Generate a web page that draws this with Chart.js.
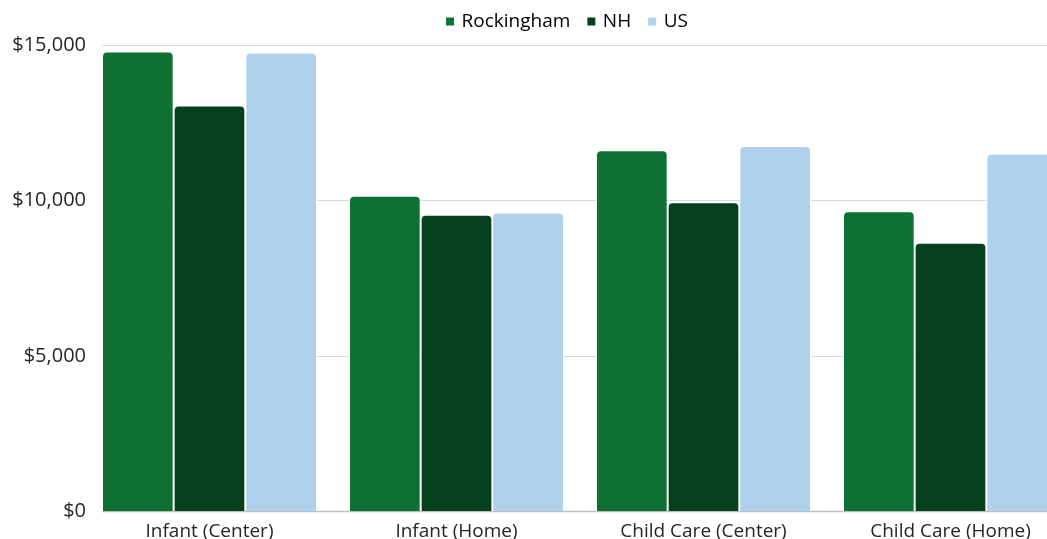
<!DOCTYPE html>
<html>
<head>
<meta charset="utf-8">
<script src="https://cdn.jsdelivr.net/npm/chart.js@4"></script>
<style>
  html, body { margin: 0; padding: 0; background: #ffffff; width: 1047px; height: 539px; overflow: hidden; }
  #wrap { position: absolute; left: 0; top: -6px; width: 1136px; height: 558px; }
</style>
</head>
<body>
<div id="wrap"><canvas id="c"></canvas></div>
<script>
// Average annual cost of care, by care type
const categories = ['Infant (Center)', 'Infant (Home)', 'Child Care (Center)', 'Child Care (Home)'];
const rockingham = [14790, 10150, 11610, 9650];
const nh = [13050, 9540, 9940, 8640];
const us = [14760, 9610, 11750, 11500];
const seriesNames = ['Rockingham', 'NH', 'US'];
const yTickValues = [0, 5000, 10000, 15000];

const colors = ['#0e7032', '#03401b', '#aed1ee'];
const CAT_PCT = 0.8704;
const FONT = "'Open Sans', sans-serif";
const FONT_SIZE = 19;
const LEGEND_SHIFT_X = 31;
const LEGEND_SHIFT_Y = -4;

// Horizontal gridlines start at the left edge of the first bar group
const gridPlugin = {
  id: 'groupGrid',
  beforeDatasetsDraw(chart) {
    const { ctx, chartArea, scales } = chart;
    const x = scales.x, y = scales.y;
    const catW = (chartArea.right - chartArea.left) / categories.length;
    const startX = x.getPixelForValue(0) - catW * CAT_PCT / 2;
    ctx.save();
    yTickValues.forEach(v => {
      const py = Math.round(y.getPixelForValue(v)) + 0.5;
      ctx.strokeStyle = v === 0 ? '#bfbfbf' : '#d9d9d9';
      ctx.lineWidth = v === 0 ? 1.5 : 1;
      ctx.beginPath();
      ctx.moveTo(startX, py);
      ctx.lineTo(chartArea.right, py);
      ctx.stroke();
    });
    ctx.restore();
  }
};

// Nudge the legend so it sits centered over the bars, close to the top edge
const legendShiftPlugin = {
  id: 'legendShift',
  afterLayout(chart) {
    const lg = chart.legend;
    if (!lg) return;
    lg.left += LEGEND_SHIFT_X; lg.right += LEGEND_SHIFT_X;
    lg.top += LEGEND_SHIFT_Y; lg.bottom += LEGEND_SHIFT_Y;
  }
};

const seriesData = [rockingham, nh, us];
new Chart(document.getElementById('c'), {
  type: 'bar',
  data: {
    labels: categories,
    datasets: seriesNames.map((name, i) => ({
      label: name,
      data: seriesData[i],
      backgroundColor: colors[i],
      borderColor: '#ffffff',
      borderWidth: 1,
      borderRadius: { topLeft: 5, topRight: 5 },
      borderSkipped: 'bottom',
      barPercentage: 1,
      categoryPercentage: CAT_PCT
    }))
  },
  options: {
    responsive: true,
    maintainAspectRatio: false,
    animation: false,
    layout: { padding: { left: 0, right: 62, top: 3, bottom: 0 } },
    plugins: {
      title: { display: false },
      tooltip: { enabled: false },
      legend: {
        position: 'top',
        labels: {
          font: { family: FONT, size: FONT_SIZE },
          color: '#262626',
          usePointStyle: true,
          pointStyle: 'rect',
          boxWidth: 4,
          boxHeight: 8,
          padding: 19,
          generateLabels(chart) {
            return chart.data.datasets.map((ds, i) => ({
              text: ds.label,
              fillStyle: ds.backgroundColor,
              strokeStyle: ds.backgroundColor,
              lineWidth: 0,
              pointStyle: 'rect',
              hidden: false,
              datasetIndex: i
            }));
          }
        }
      }
    },
    scales: {
      x: {
        grid: { display: false, drawTicks: false },
        border: { display: false },
        ticks: { font: { family: FONT, size: FONT_SIZE }, color: '#262626', padding: 9, maxRotation: 0 }
      },
      y: {
        min: 0,
        max: 15000,
        afterFit(scale) { scale.width = 86; },
        afterBuildTicks(scale) { scale.ticks = yTickValues.map(v => ({ value: v })); },
        grid: { display: false, drawTicks: false, tickLength: 0 },
        border: { display: false },
        ticks: {
          font: { family: FONT, size: 20 },
          color: '#262626',
          padding: 0,
          callback: v => '$' + v.toLocaleString('en-US')
        }
      }
    }
  },
  plugins: [gridPlugin, legendShiftPlugin]
});
</script>
</body>
</html>
